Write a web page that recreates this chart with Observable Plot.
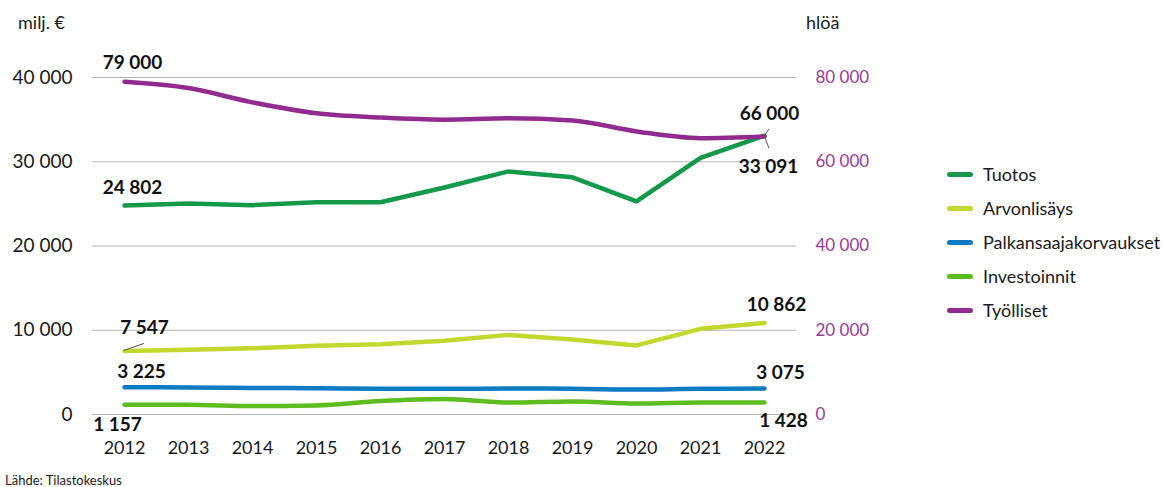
<!DOCTYPE html>
<html><head><meta charset="utf-8">
<script src="https://cdn.jsdelivr.net/npm/d3@7"></script>
<script src="https://cdn.jsdelivr.net/npm/@observablehq/plot@0.6"></script>
<style>
body{margin:0;background:#fff;font-family:Lato,"Open Sans",sans-serif;color:#1a1a1a}
#wrap{position:relative;width:1163px;height:487px;overflow:hidden}
#wrap svg{position:absolute;left:0;top:0}
.ov{position:absolute;white-space:nowrap}
.legend{position:absolute;left:947px;top:157px}
.legend .it{display:flex;align-items:center;height:34px;font-size:18px}
.legend .sw{display:inline-block;width:26px;height:5px;border-radius:3px;margin-right:10px}
</style>
</head><body><div id="wrap"></div>
<script>
const years = [2012, 2013, 2014, 2015, 2016, 2017, 2018, 2019, 2020, 2021, 2022];
const tuotos = [24802, 25050, 24850, 25200, 25200, 26950, 28850, 28150, 25300, 30450, 33091];
const arvonlisays = [7547, 7700, 7870, 8150, 8350, 8750, 9450, 8900, 8200, 10170, 10862];
const palkansaajakorvaukset = [3225, 3210, 3160, 3110, 3070, 3060, 3080, 3060, 2960, 3050, 3075];
const investoinnit = [1157, 1150, 1000, 1080, 1600, 1850, 1420, 1550, 1300, 1420, 1428];
const tyolliset = [79000, 77500, 74100, 71500, 70500, 70000, 70300, 69800, 67200, 65600, 66000];
const seriesNames = ["Tuotos", "Arvonlisäys", "Palkansaajakorvaukset", "Investoinnit", "Työlliset"];
const seriesColors = ["#14994a", "#c3d82f", "#0d7bc4", "#5dbd1f", "#922b8f"];
const leftTicks = [0, 10000, 20000, 30000, 40000];
const rightTicks = [0, 20000, 40000, 60000, 80000];
const leftUnit = "milj. €";
const rightUnit = "hlöä";
const source = "Lähde: Tilastokeskus";

const seriesValues = [tuotos, arvonlisays, palkansaajakorvaukset, investoinnit, tyolliset];
const onRight = [false, false, false, false, true];
const curves = ["linear", "linear", "monotone-x", "monotone-x", "monotone-x"];

const loc = d3.formatLocale({decimal: ",", thousands: "\u00a0", grouping: [3], currency: ["", " €"]});
const fmt = loc.format(",d");

// long table; right-axis series scaled into left-axis units (80 000 hlöä ↔ 40 000 milj. €)
const ratio = rightTicks[rightTicks.length - 1] / leftTicks[leftTicks.length - 1];
const rows = [];
seriesNames.forEach((s, i) => {
  years.forEach((yr, j) => {
    const v = seriesValues[i][j];
    rows.push({series: s, year: yr, value: v, py: onRight[i] ? v / ratio : v});
  });
});
const row = (s, yr) => rows.find(r => r.series === s && r.year === yr);

// label placement (style): series, year, dx, dy
const labelSpecs = [
  ["Työlliset", 2012, 8, -19],
  ["Tuotos", 2012, 8, -18],
  ["Arvonlisäys", 2012, 20, -23],
  ["Palkansaajakorvaukset", 2012, 17, -15],
  ["Investoinnit", 2012, -7, 20],
  ["Työlliset", 2022, 5, -23],
  ["Tuotos", 2022, 4, 31],
  ["Arvonlisäys", 2022, 12, -18],
  ["Palkansaajakorvaukset", 2022, 16, -16],
  ["Investoinnit", 2022, 19, 18]
];
// leader lines (style): series, year, dx, dy of the end
const leaderSpecs = [
  ["Arvonlisäys", 2012, 20, -7],
  ["Työlliset", 2022, 5, -7],
  ["Tuotos", 2022, 5, 13]
];

const marks = [
  Plot.gridY(leftTicks, {stroke: "#b4b4b8", strokeOpacity: 1, strokeWidth: 1}),
  Plot.axisY(leftTicks, {anchor: "left", tickSize: 0, tickPadding: 20, tickFormat: fmt, fontSize: 19, label: null, color: "#1a1a1a"}),
  Plot.axisY(rightTicks.map(v => v / ratio), {anchor: "right", tickSize: 0, tickPadding: 19, tickFormat: d => fmt(d * ratio), fontSize: 17, label: null, color: "#9c3a9c"}),
  Plot.axisX(years, {tickSize: 0, tickPadding: 27, tickFormat: d => String(d), fontSize: 18, label: null, color: "#1a1a1a"})
];
seriesNames.forEach((s, i) => {
  marks.push(Plot.line(rows.filter(r => r.series === s), {
    x: "year", y: "py", stroke: seriesColors[i], strokeWidth: 4.5,
    strokeLinecap: "round", strokeLinejoin: "round", curve: curves[i]
  }));
});
// leader lines
marks.push((index, scales) => {
  const g = d3.create("svg:g").attr("stroke", "#555").attr("stroke-width", 1);
  leaderSpecs.forEach(([s, yr, dx, dy]) => {
    const r = row(s, yr);
    const x0 = scales.x(r.year), y0 = scales.y(r.py);
    g.append("line").attr("x1", x0).attr("y1", y0).attr("x2", x0 + dx).attr("y2", y0 + dy);
  });
  return g.node();
});
labelSpecs.forEach(([s, yr, dx, dy]) => {
  marks.push(Plot.text([row(s, yr)], {
    x: "year", y: "py", text: d => fmt(d.value), dx, dy,
    fontWeight: "bold", fontSize: 19, fill: "#111", textAnchor: "middle"
  }));
});

const chart = Plot.plot({
  width: 1163, height: 487,
  marginLeft: 92, marginRight: 367, marginTop: 77, marginBottom: 73,
  x: {type: "point", domain: years, padding: 0.5, axis: null},
  y: {domain: [leftTicks[0], leftTicks[leftTicks.length - 1]], axis: null},
  style: {fontFamily: "Lato, 'Open Sans', sans-serif", background: "transparent", color: "#1a1a1a"},
  marks
});
const wrap = document.getElementById("wrap");
wrap.appendChild(chart);

function ov(text, css) {
  const d = document.createElement("div");
  d.className = "ov"; d.textContent = text; Object.assign(d.style, css);
  wrap.appendChild(d);
}
ov(leftUnit, {left: "18px", top: "11px", fontSize: "18px"});
ov(rightUnit, {left: "806px", top: "11px", fontSize: "18px"});
ov(source, {left: "5px", top: "472px", fontSize: "13px"});

const lg = document.createElement("div");
lg.className = "legend";
seriesNames.forEach((s, i) => {
  const it = document.createElement("div"); it.className = "it";
  const sw = document.createElement("span"); sw.className = "sw"; sw.style.background = seriesColors[i];
  it.appendChild(sw); it.appendChild(document.createTextNode(s));
  lg.appendChild(it);
});
wrap.appendChild(lg);
</script>
</body></html>
